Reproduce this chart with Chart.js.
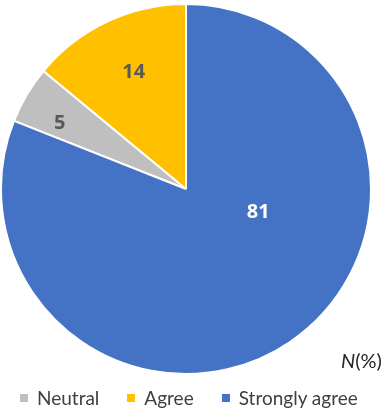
<!DOCTYPE html>
<html lang="en">
<head>
    <meta charset="UTF-8" />
    <title>Agreement pie</title>
    <script src="https://cdn.jsdelivr.net/npm/chart.js"></script>
    <style>
        body { margin: 0; background: #fff; }
        .wrap { position: relative; width: 391px; height: 416px; overflow: hidden; }
        .unit {
            position: absolute;
            left: 341px;
            top: 350px;
            font-family: Lato, sans-serif;
            font-size: 20px;
            line-height: 20px;
            color: #262626;
            white-space: nowrap;
        }
        #legend {
            position: absolute;
            left: 20px;
            top: 388px;
            display: flex;
            align-items: center;
            font-family: Lato, sans-serif;
            font-size: 19px;
            line-height: 19px;
            color: #404040;
            white-space: nowrap;
        }
        #legend .item { display: flex; align-items: center; margin-right: 28px; }
        #legend .box { width: 8px; height: 8px; margin-right: 9px; }
    </style>
</head>
<body>
    <div class="wrap">
        <canvas id="pieChart" width="391" height="416"></canvas>
        <div class="unit"><i>N</i>(%)</div>
        <div id="legend"></div>
    </div>

<script>
    const categories = ['Neutral', 'Agree', 'Strongly agree'];
    const percents = [5, 14, 81];
    const sliceColors = ['#BFBFBF', '#FFC000', '#4472C4'];

    // value labels inside the slices (Excel "best fit" look)
    const sliceLabels = {
        id: 'sliceLabels',
        afterDatasetsDraw(chart, args, opts) {
            const { ctx } = chart;
            const meta = chart.getDatasetMeta(0);
            ctx.save();
            ctx.font = 'bold 20px "Open Sans", sans-serif';
            ctx.textAlign = 'center';
            ctx.textBaseline = 'middle';
            meta.data.forEach((arc, i) => {
                const p = arc.getProps(['x', 'y', 'startAngle', 'endAngle', 'outerRadius'], true);
                const a = (p.startAngle + p.endAngle) / 2 + opts.shift[i] * Math.PI / 180;
                const r = p.outerRadius * opts.dist[i];
                ctx.fillStyle = opts.colors[i];
                ctx.fillText(String(chart.data.datasets[0].data[i]), p.x + Math.cos(a) * r, p.y + Math.sin(a) * r);
            });
            ctx.restore();
        }
    };

    // html legend built from the chart's own legend items
    const htmlLegend = {
        id: 'htmlLegend',
        afterUpdate(chart) {
            const box = document.getElementById('legend');
            box.innerHTML = '';
            const items = chart.options.plugins.legend.labels.generateLabels(chart);
            items.forEach(item => {
                const el = document.createElement('div');
                el.className = 'item';
                el.innerHTML = `<span class="box" style="background:${item.fillStyle}"></span>${item.text}`;
                box.appendChild(el);
            });
        }
    };

    new Chart(document.getElementById('pieChart'), {
        type: 'pie',
        data: {
            labels: categories,
            datasets: [{
                data: percents,
                backgroundColor: sliceColors,
                borderColor: '#fff',
                borderWidth: 2,
                hoverOffset: 0
            }]
        },
        options: {
            responsive: false,
            animation: false,
            rotation: 291.6,
            layout: { padding: { top: 3, left: 0, right: 19, bottom: 41 } },
            plugins: {
                tooltip: { enabled: false },
                legend: { display: false },
                sliceLabels: {
                    dist: [0.77, 0.69, 0.41],
                    shift: [-3, 1, -38],
                    colors: ['#595959', '#595959', '#ffffff']
                }
            }
        },
        plugins: [sliceLabels, htmlLegend]
    });
</script>
</body>
</html>
